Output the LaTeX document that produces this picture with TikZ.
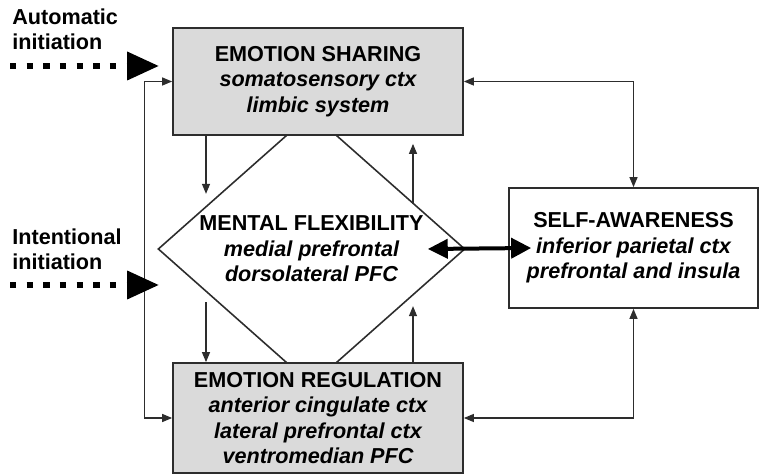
\documentclass[tikz,border=0pt]{standalone}
\usepackage{fontspec}
\setmainfont{Liberation Sans}
\usetikzlibrary{arrows.meta,shapes.geometric}
\definecolor{boxgray}{RGB}{218,218,218}
\definecolor{edgegray}{RGB}{45,45,45}
\begin{document}
\begin{tikzpicture}[x=0.02cm,y=-0.02cm,
  >={Triangle[length=0.2cm,width=0.16cm]},
  txt/.style={align=center,inner sep=0pt,font=\fontsize{12.3}{14.5}\selectfont\bfseries},
  area/.style={txt,draw=edgegray,line width=1pt},
  link/.style={line width=0.7pt,edgegray},
  init/.style={line width=0.13cm,dash pattern=on 0.13cm off 0.203cm,-{Triangle[length=0.64cm,width=0.54cm]},shorten >=0.26cm},
  both/.style={line width=0.08cm,{Triangle[length=0.4cm,width=0.38cm]}-{Triangle[length=0.4cm,width=0.4cm]}}]
\useasboundingbox (0,0) rectangle (759,475);
% centre: mental flexibility
\node[draw=edgegray,line width=0.9pt,shape=diamond,minimum width=6.14cm,minimum height=5.44cm,inner sep=0pt,name=mf] at (311.5,249){};
\node[txt,name=mftext] at (mf.center){MENTAL FLEXIBILITY\\{\itshape medial prefrontal}\\{\itshape dorsolateral PFC}};
% boxes
\node[area,fill=boxgray,minimum width=5.8cm,minimum height=2.14cm,name=es] at (318,81.5){EMOTION SHARING\\{\itshape somatosensory ctx}\\{\itshape limbic system}};
\node[area,fill=boxgray,minimum width=5.8cm,minimum height=2.2cm,name=er] at (318,418){EMOTION REGULATION\\{\itshape anterior cingulate ctx}\\{\itshape lateral prefrontal ctx}\\{\itshape ventromedian PFC}};
\node[area,fill=white,minimum width=4.98cm,minimum height=2.4cm,name=sa] at (633.5,248){SELF-AWARENESS\\{\itshape inferior parietal ctx}\\{\itshape prefrontal and insula}};
% initiation
\node[txt,align=left,anchor=north west,name=autolab] at (12,8){Automatic\\initiation};
\node[txt,align=left,anchor=north west,name=intlab] at (12,228){Intentional\\initiation};
\coordinate (auto) at (10,66);
\coordinate (inten) at (10,285);
\coordinate (cl) at (206,0);
\coordinate (cr) at (413,0);
% links
\draw[link,<->] (es.west)--++(-28,0)|-(er.west);
\draw[link,<->] (es.east)-|(sa.north);
\draw[link,<->] (sa.south)|-(er.east);
\draw[link,->] (es.south -| cl)--++(0,58);
\draw[link,<-,shorten <=0.16cm] (es.south -| cr)--++(0,68);
\draw[link,->,shorten <=0.2cm] (er.north -| cl)++(0,-70)--(er.north -| cl);
\draw[link,->] (er.north -| cr)--++(0,-56);
\draw[both] ([xshift=-0.76cm]mf.east)--([xshift=0.46cm]sa.west);
\draw[init] (auto)--(auto -| es.west);
\draw[init] (inten)--(inten -| es.west);
\end{tikzpicture}
\end{document}
